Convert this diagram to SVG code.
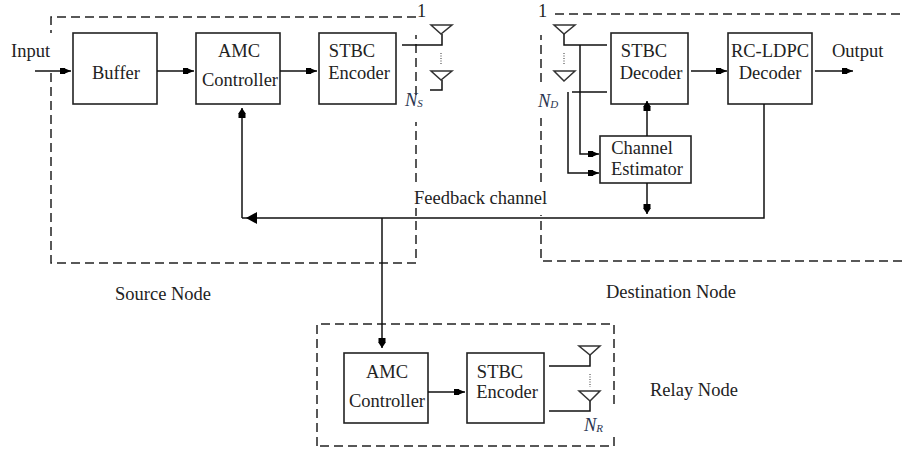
<svg xmlns="http://www.w3.org/2000/svg" width="902" height="450" viewBox="0 0 902 450">
<style>
text{font-family:"Liberation Serif","Times New Roman",serif;font-size:18.5px;fill:#222}
.m{text-anchor:middle}
.i{font-style:italic;fill:#2a3550}
.s{font-size:11px}
rect.b{fill:#fff;stroke:#222;stroke-width:1.6}
.d{fill:none;stroke:#222;stroke-width:1.5;stroke-dasharray:9 5}
.l{fill:none;stroke:#111;stroke-width:1.5}
.la{fill:none;stroke:#111;stroke-width:1.5;marker-end:url(#a)}
.lb{fill:none;stroke:#111;stroke-width:1.5;marker-end:url(#b)}
.t{fill:none;stroke:#333;stroke-width:1.5}
.o{fill:none;stroke:#555;stroke-width:1.2;stroke-dasharray:1 1.5}
</style>
<defs>
<marker id="a" markerUnits="userSpaceOnUse" markerWidth="12" markerHeight="10" refX="11" refY="5" orient="auto">
<path d="M0 2H5V2.500L11 5L5 7.500V8H0Z" fill="#000"/>
</marker>
<marker id="b" markerUnits="userSpaceOnUse" markerWidth="12" markerHeight="10" refX="10" refY="5" orient="auto">
<path d="M0 1.500H4V1L10 5L4 9V8.500H0Z" fill="#000"/>
</marker>
</defs>
<rect width="902" height="450" fill="#fff"/>
<g id="regions">
<path class="d" d="M416 17H51V33M51 73V263H416V208M416 182V122M416 95V35"/>
<path class="d" d="M555 14H902M902 261H541V215M541 182V118M541 82V35"/>
<path class="d" d="M317 446V324H614V405M614 437V446H317"/>
</g>
<g id="buffer"><rect class="b" x="73" y="33" width="84" height="71"/><text class="m" x="116" y="79">Buffer</text></g>
<g id="amc-source"><rect class="b" x="196" y="33" width="84" height="71"/><text class="m" x="239" y="57">AMC</text><text class="m" x="240" y="86">Controller</text></g>
<g id="stbc-encoder-source"><rect class="b" x="319" y="33" width="77" height="71"/><text class="m" x="352" y="57">STBC</text><text class="m" x="359" y="79">Encoder</text></g>
<g id="stbc-decoder"><rect class="b" x="611" y="33" width="77" height="71"/><text class="m" x="644" y="57">STBC</text><text class="m" x="651" y="79">Decoder</text></g>
<g id="rc-ldpc"><rect class="b" x="728" y="33" width="84" height="71"/><text class="m" x="770" y="57">RC-LDPC</text><text class="m" x="770" y="79">Decoder</text></g>
<g id="channel-estimator"><rect class="b" x="600" y="136" width="91" height="47"/><text class="m" x="642" y="154">Channel</text><text class="m" x="647" y="175">Estimator</text></g>
<g id="amc-relay"><rect class="b" x="344" y="353" width="84" height="70"/><text class="m" x="387" y="378">AMC</text><text class="m" x="387" y="407">Controller</text></g>
<g id="stbc-encoder-relay"><rect class="b" x="467" y="353" width="77" height="70"/><text class="m" x="500" y="378">STBC</text><text class="m" x="507" y="398">Encoder</text></g>
<g id="connectors">
<path class="la" d="M35 71H71"/>
<path class="la" d="M157 71H194"/>
<path class="la" d="M280 71H317"/>
<path class="lb" d="M242 218V108"/>
<path class="l" d="M402 45H442V34M430 90H442V80"/>
<path class="l" d="M242 218H764V104"/>
<path d="M246 218L257 212V224Z" fill="#000"/>
<path class="lb" d="M382 218V348"/>
<path class="l" d="M564 34V45H607M572 92H607"/>
<path class="la" d="M580 45V154H599"/>
<path class="la" d="M568 92V173H599"/>
<path class="lb" d="M647 136V101"/>
<path class="lb" d="M647 183V214"/>
<path class="la" d="M691 71H727"/>
<path class="la" d="M815 71H853"/>
<path class="la" d="M428 392H465"/>
<path class="l" d="M549 366H590V355M549 411H590V401"/>
</g>
<g id="antennas-source"><path class="t" d="M431 25H452L441 34ZM431 71H452L441 80Z"/><path class="o" d="M441 53V65"/><text x="417" y="17">1</text><text class="i" x="405" y="106">N<tspan class="s" dy="1">S</tspan></text></g>
<g id="antennas-destination"><path class="t" d="M554 25H575L564 34ZM554 71H575L564 81Z"/><path class="o" d="M564 53V65"/><text x="538" y="17">1</text><text class="i" x="538" y="107">N<tspan class="s" dy="1">D</tspan></text></g>
<g id="antennas-relay"><path class="t" d="M579 346H600L590 355ZM579 391H600L590 401Z"/><path class="o" d="M590 374V387"/><text class="i" x="584" y="431">N<tspan class="s" dy="1">R</tspan></text></g>
<g id="labels">
<text x="11" y="57">Input</text>
<text x="832" y="57">Output</text>
<text x="414" y="204">Feedback channel</text>
<text x="115" y="300">Source Node</text>
<text x="606" y="298">Destination Node</text>
<text x="650" y="396">Relay Node</text>
</g>
</svg>
